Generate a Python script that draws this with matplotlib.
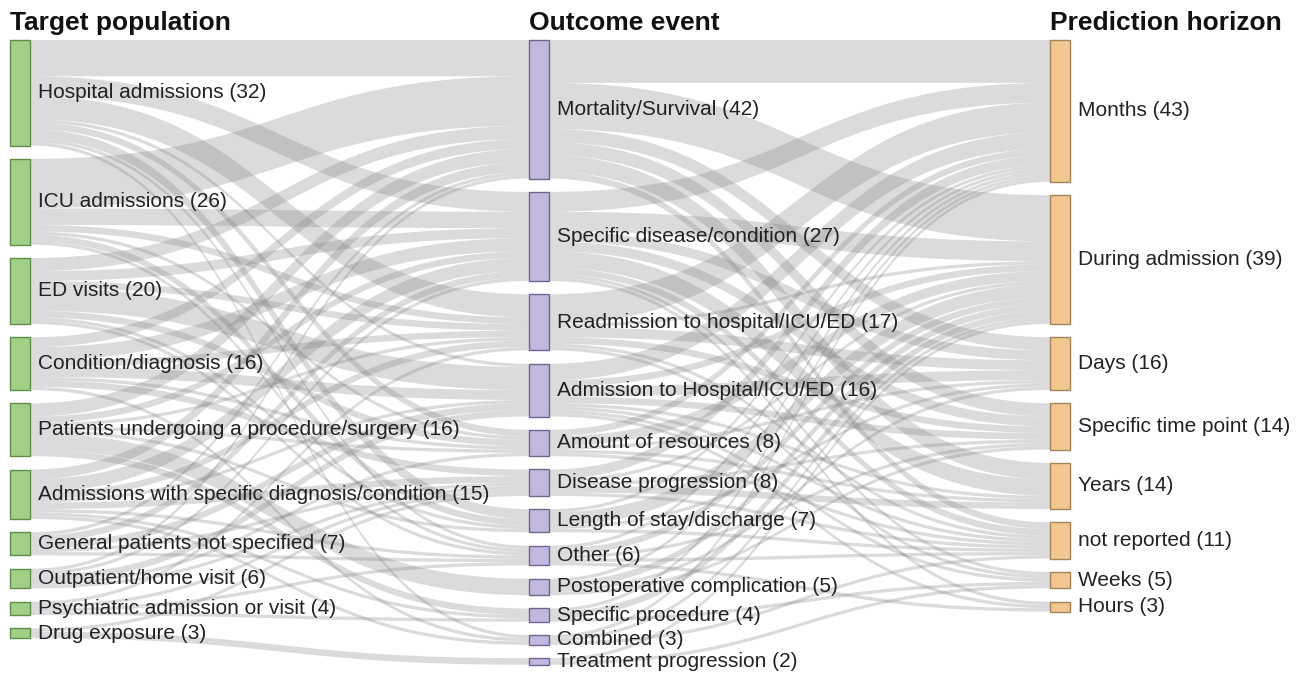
import matplotlib.pyplot as plt
from matplotlib.patches import PathPatch, Rectangle
from matplotlib.path import Path

targets = [
    "Hospital admissions",
    "ICU admissions",
    "ED visits",
    "Condition/diagnosis",
    "Patients undergoing a procedure/surgery",
    "Admissions with specific diagnosis/condition",
    "General patients not specified",
    "Outpatient/home visit",
    "Psychiatric admission or visit",
    "Drug exposure",
]
target_n = [32, 26, 20, 16, 16, 15, 7, 6, 4, 3]

outcomes = [
    "Mortality/Survival",
    "Specific disease/condition",
    "Readmission to hospital/ICU/ED",
    "Admission to Hospital/ICU/ED",
    "Amount of resources",
    "Disease progression",
    "Length of stay/discharge",
    "Other",
    "Postoperative complication",
    "Specific procedure",
    "Combined",
    "Treatment progression",
]
outcome_n = [42, 27, 17, 16, 8, 8, 7, 6, 5, 4, 3, 2]

horizons = [
    "Months",
    "During admission",
    "Days",
    "Specific time point",
    "Years",
    "not reported",
    "Weeks",
    "Hours",
]
horizon_n = [43, 39, 16, 14, 14, 11, 5, 3]

# rows: target population, columns: outcome event
target_to_outcome = [
    [11, 6, 7, 1, 2, 0, 3, 1, 0, 0, 1, 0],
    [15, 5, 2, 0, 1, 0, 2, 1, 0, 0, 0, 0],
    [4, 3, 2, 7, 2, 0, 1, 1, 0, 0, 0, 0],
    [3, 4, 2, 3, 1, 2, 0, 0, 0, 0, 1, 0],
    [4, 2, 1, 0, 1, 0, 1, 0, 5, 2, 0, 0],
    [3, 4, 2, 1, 0, 2, 0, 1, 0, 1, 1, 0],
    [1, 2, 0, 2, 0, 1, 0, 1, 0, 0, 0, 0],
    [1, 1, 0, 2, 1, 1, 0, 0, 0, 0, 0, 0],
    [0, 0, 1, 0, 0, 1, 0, 1, 0, 1, 0, 0],
    [0, 0, 0, 0, 0, 1, 0, 0, 0, 0, 0, 2],
]

# rows: outcome event, columns: prediction horizon
outcome_to_horizon = [
    [13, 14, 4, 4, 5, 2, 0, 0],
    [6, 6, 3, 3, 5, 2, 1, 1],
    [9, 1, 3, 2, 0, 1, 1, 0],
    [5, 2, 3, 2, 1, 1, 1, 1],
    [2, 3, 1, 0, 1, 1, 0, 0],
    [3, 1, 0, 1, 2, 1, 0, 0],
    [1, 4, 1, 0, 0, 1, 0, 0],
    [1, 2, 0, 1, 0, 1, 0, 1],
    [1, 2, 1, 1, 0, 0, 0, 0],
    [1, 2, 0, 0, 0, 0, 1, 0],
    [1, 1, 0, 0, 0, 1, 0, 0],
    [0, 1, 0, 0, 0, 0, 1, 0],
]

plt.rcParams["font.family"] = ["Liberation Sans", "DejaVu Sans"]

SCALE = 3.3
GAP = 13.3
TOP = 40
NODE_W = 20
COL_X = [10, 529, 1050]
FILLS = ["#a0cf87", "#c2b7dc", "#f2c890"]
EDGES = ["#5e8e4a", "#6e6690", "#a4835a"]


def stack(counts):
    ys = []
    y = TOP
    for c in counts:
        ys.append(y)
        y += c * SCALE + GAP
    return ys


def draw_links(ax, matrix, src_y, dst_y, x0, x1):
    n_src = len(matrix)
    n_dst = len(matrix[0])
    src_off = list(src_y)
    dst_off = list(dst_y)
    # offsets at the target side, ordered by source position
    dst_start = {}
    for j in range(n_dst):
        for i in range(n_src):
            dst_start[(i, j)] = dst_off[j]
            dst_off[j] += matrix[i][j] * SCALE
    xm = (x0 + x1) / 2
    for i in range(n_src):
        for j in range(n_dst):
            v = matrix[i][j]
            if v == 0:
                continue
            w = v * SCALE
            a = src_off[i]
            b = dst_start[(i, j)]
            src_off[i] += w
            verts = [
                (x0, a), (xm, a), (xm, b), (x1, b),
                (x1, b + w), (xm, b + w), (xm, a + w), (x0, a + w),
                (x0, a),
            ]
            codes = [
                Path.MOVETO, Path.CURVE4, Path.CURVE4, Path.CURVE4,
                Path.LINETO, Path.CURVE4, Path.CURVE4, Path.CURVE4,
                Path.CLOSEPOLY,
            ]
            ax.add_patch(PathPatch(Path(verts, codes), facecolor="#808080",
                                   alpha=0.28, linewidth=0, zorder=1))


def draw_nodes(ax, names, counts, ys, col):
    x = COL_X[col]
    for name, c, y in zip(names, counts, ys):
        h = c * SCALE
        ax.add_patch(Rectangle((x, y), NODE_W, h, facecolor=FILLS[col],
                               edgecolor=EDGES[col], linewidth=1, zorder=3))
        ax.text(x + NODE_W + 8, y + h / 2, f"{name} ({c})", va="center",
                ha="left", fontsize=15, color="#222222", zorder=4)


fig = plt.figure(figsize=(13.04, 6.74), dpi=100)
ax = fig.add_axes([0, 0, 1, 1])
ax.set_xlim(0, 1304)
ax.set_ylim(674, 0)
ax.axis("off")

ty = stack(target_n)
oy = stack(outcome_n)
hy = stack(horizon_n)

draw_links(ax, target_to_outcome, ty, oy, COL_X[0] + NODE_W, COL_X[1])
draw_links(ax, outcome_to_horizon, oy, hy, COL_X[1] + NODE_W, COL_X[2])

draw_nodes(ax, targets, target_n, ty, 0)
draw_nodes(ax, outcomes, outcome_n, oy, 1)
draw_nodes(ax, horizons, horizon_n, hy, 2)

for x, title in zip(COL_X, ["Target population", "Outcome event", "Prediction horizon"]):
    ax.text(x, 23, title, fontsize=19, fontweight="bold", va="center",
            ha="left", color="#111111")

fig.savefig("out.png", dpi=100)
